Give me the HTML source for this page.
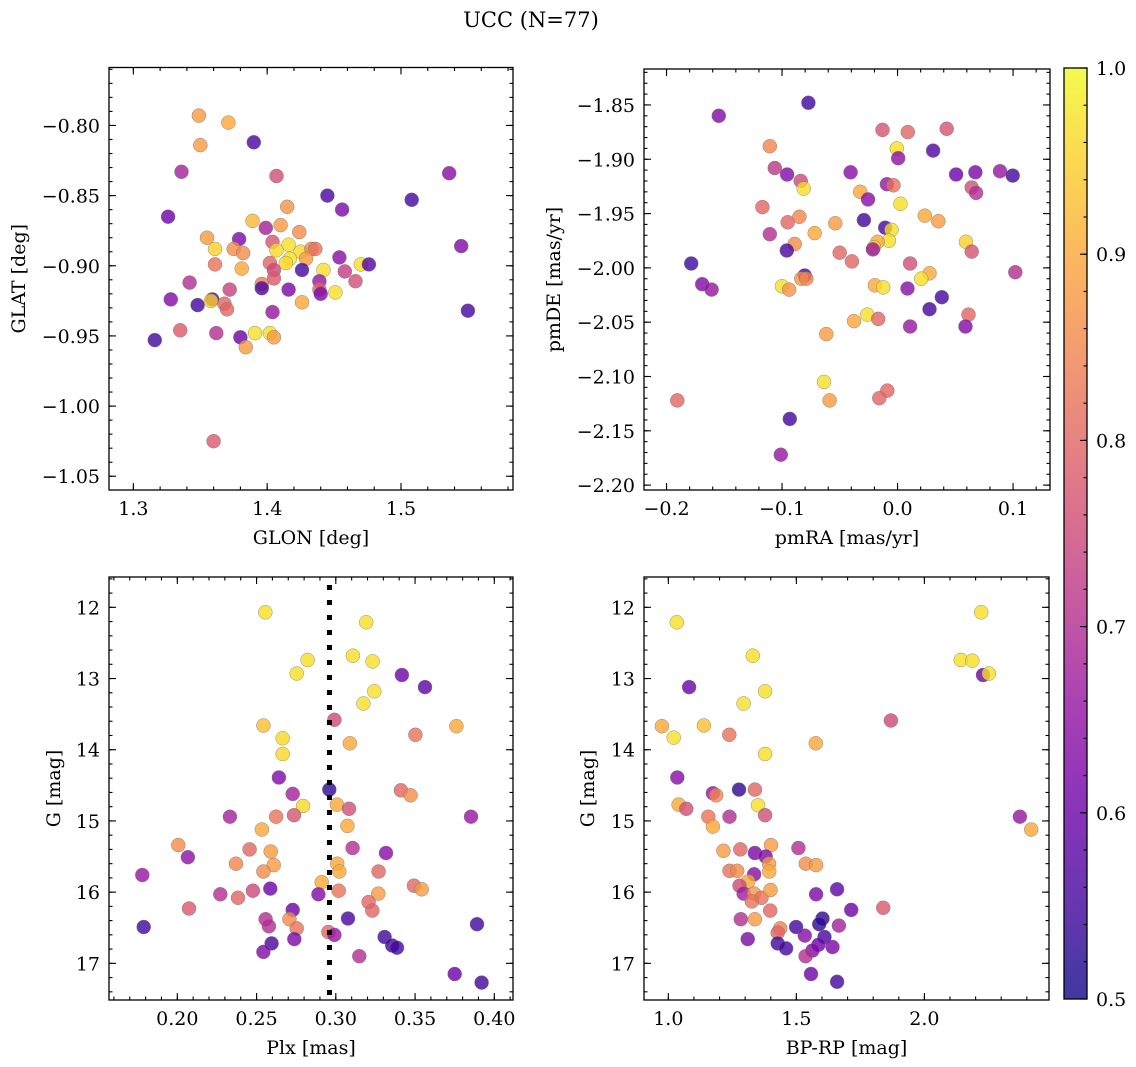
<!DOCTYPE html>
<html><head><meta charset="utf-8">
<style>
html,body{margin:0;padding:0;background:#fff;}
svg{display:block;font-family:"DejaVu Serif","Liberation Serif",serif;}
</style></head>
<body>
<svg id="chart" width="1136" height="1067" xmlns="http://www.w3.org/2000/svg">
<defs>
<linearGradient id="cbgrad" x1="0" y1="1" x2="0" y2="0">
<stop offset="0" stop-color="#0d0887"/><stop offset="0.1" stop-color="#41049d"/><stop offset="0.2" stop-color="#6a00a8"/>
<stop offset="0.3" stop-color="#8f0da4"/><stop offset="0.4" stop-color="#b12a90"/><stop offset="0.5" stop-color="#cc4778"/>
<stop offset="0.6" stop-color="#e16462"/><stop offset="0.7" stop-color="#f2844b"/><stop offset="0.8" stop-color="#fca636"/>
<stop offset="0.9" stop-color="#fcce25"/><stop offset="1" stop-color="#f0f921"/>
</linearGradient>
</defs>
<text x="531" y="27" font-size="21" text-anchor="middle">UCC (N=77)</text>
</svg>
<script>
// Panel 1: GLON vs GLAT
const p1Glon=[1.349,1.371,1.350,1.390,1.336,1.407,1.536,1.445,1.508,1.456,1.415,1.326,1.389,1.399,1.410,1.424,1.355,1.379,1.404,1.416,1.361,1.375,1.382,1.407,1.425,1.433,1.436,1.545,1.417,1.414,1.429,1.402,1.405,1.426,1.454,1.470,1.476,1.361,1.381,1.442,1.458,1.405,1.466,1.342,1.396,1.396,1.439,1.439,1.440,1.416,1.451,1.372,1.328,1.348,1.359,1.358,1.368,1.370,1.426,1.404,1.335,1.362,1.316,1.380,1.384,1.391,1.402,1.405,1.360,1.550];
const p1Glat=[-0.793,-0.798,-0.814,-0.812,-0.833,-0.836,-0.834,-0.850,-0.853,-0.860,-0.858,-0.865,-0.868,-0.873,-0.871,-0.876,-0.880,-0.881,-0.883,-0.885,-0.888,-0.888,-0.891,-0.889,-0.890,-0.888,-0.888,-0.886,-0.895,-0.898,-0.895,-0.898,-0.903,-0.903,-0.894,-0.899,-0.899,-0.899,-0.902,-0.903,-0.904,-0.909,-0.911,-0.912,-0.913,-0.916,-0.911,-0.917,-0.920,-0.917,-0.919,-0.917,-0.924,-0.928,-0.924,-0.925,-0.927,-0.931,-0.926,-0.933,-0.946,-0.948,-0.953,-0.951,-0.958,-0.948,-0.948,-0.951,-1.025,-0.932];
const p1Prob=[0.88,0.9,0.88,0.56,0.68,0.76,0.64,0.56,0.55,0.62,0.87,0.6,0.92,0.68,0.88,0.86,0.88,0.62,0.77,0.97,0.95,0.86,0.86,0.96,0.96,0.85,0.82,0.63,0.97,0.96,0.88,0.8,0.75,0.55,0.64,0.97,0.57,0.82,0.9,0.97,0.73,0.78,0.76,0.7,0.84,0.56,0.66,0.8,0.62,0.62,0.97,0.74,0.63,0.55,0.55,0.95,0.8,0.8,0.9,0.66,0.78,0.7,0.55,0.6,0.88,0.97,0.97,0.88,0.78,0.55];
const p1XTicks=[1.3,1.4,1.5];
const p1XLabels=["1.3","1.4","1.5"];
const p1YTicks=[-0.80,-0.85,-0.90,-0.95,-1.00,-1.05];
const p1YLabels=["−0.80","−0.85","−0.90","−0.95","−1.00","−1.05"];

// Panel 2: pmRA vs pmDE
const p2PmRA=[-0.1547,-0.0772,-0.1106,-0.0130,0.0089,0.0426,-0.0006,0.0006,0.0308,-0.1063,-0.0956,-0.0838,-0.0812,-0.0406,-0.0092,-0.0035,0.0507,0.0674,0.0887,0.0997,0.0642,0.068,-0.0323,-0.0256,0.0026,-0.117,-0.0951,-0.085,-0.0539,-0.0291,0.0236,0.0354,-0.1106,-0.0717,-0.0107,-0.0052,-0.0075,-0.0173,-0.0205,-0.0213,-0.089,-0.0959,0.0593,0.0642,-0.0501,-0.0395,-0.1786,0.0109,0.102,-0.1691,-0.161,-0.0804,-0.0833,-0.079,-0.100,-0.0939,0.0277,0.0205,-0.0196,-0.0124,0.0086,0.0383,0.0277,0.0614,0.0588,0.0109,-0.0262,-0.0167,-0.0377,-0.0617,-0.0637,-0.0588,-0.0089,-0.0158,-0.1907,-0.0933,-0.1011];
const p2PmDE=[-1.860,-1.848,-1.888,-1.873,-1.875,-1.872,-1.890,-1.899,-1.892,-1.908,-1.914,-1.920,-1.927,-1.912,-1.923,-1.924,-1.914,-1.912,-1.911,-1.915,-1.926,-1.931,-1.930,-1.937,-1.941,-1.944,-1.958,-1.953,-1.959,-1.956,-1.952,-1.957,-1.969,-1.968,-1.963,-1.965,-1.975,-1.976,-1.981,-1.983,-1.978,-1.984,-1.976,-1.985,-1.986,-1.994,-1.996,-1.996,-2.004,-2.015,-2.020,-2.007,-2.010,-2.010,-2.017,-2.020,-2.005,-2.010,-2.016,-2.018,-2.019,-2.027,-2.038,-2.043,-2.054,-2.054,-2.043,-2.047,-2.049,-2.061,-2.105,-2.122,-2.113,-2.120,-2.122,-2.139,-2.172];
const p2Prob=[0.63,0.55,0.85,0.77,0.8,0.77,0.97,0.65,0.57,0.72,0.63,0.75,0.97,0.64,0.66,0.82,0.6,0.62,0.66,0.55,0.76,0.7,0.9,0.64,0.97,0.8,0.8,0.85,0.88,0.55,0.9,0.88,0.7,0.9,0.56,0.97,0.97,0.9,0.95,0.66,0.86,0.56,0.95,0.77,0.8,0.8,0.55,0.76,0.7,0.63,0.66,0.55,0.87,0.85,0.97,0.87,0.9,0.97,0.9,0.97,0.64,0.55,0.55,0.8,0.63,0.66,0.97,0.8,0.9,0.88,0.97,0.88,0.8,0.8,0.8,0.55,0.66];
const p2XTicks=[-0.2,-0.1,0.0,0.1];
const p2XLabels=["−0.2","−0.1","0.0","0.1"];
const p2YTicks=[-1.85,-1.90,-1.95,-2.00,-2.05,-2.10,-2.15,-2.20];
const p2YLabels=["−1.85","−1.90","−1.95","−2.00","−2.05","−2.10","−2.15","−2.20"];

// Panel 3: Plx vs G
const p3Plx=[0.2555,0.3192,0.2822,0.2753,0.3108,0.3232,0.3417,0.3563,0.3243,0.3174,0.2991,0.2543,0.3761,0.3502,0.2665,0.3089,0.2665,0.2641,0.2959,0.2728,0.3411,0.3472,0.2793,0.3007,0.3083,0.2332,0.2623,0.2736,0.3853,0.2534,0.3073,0.2006,0.2067,0.2456,0.2589,0.3106,0.3317,0.2370,0.2608,0.2543,0.3009,0.3022,0.3270,0.1779,0.2911,0.3493,0.3542,0.2271,0.2383,0.2477,0.2587,0.2890,0.3018,0.3268,0.2074,0.3207,0.3230,0.2728,0.3077,0.1788,0.3891,0.2557,0.2578,0.2707,0.2753,0.2953,0.2991,0.3308,0.3356,0.3386,0.2595,0.2738,0.2543,0.3148,0.3750,0.3920];
const p3G=[12.07,12.21,12.74,12.93,12.68,12.76,12.95,13.12,13.18,13.35,13.58,13.66,13.67,13.79,13.84,13.91,14.06,14.39,14.56,14.62,14.57,14.64,14.79,14.77,14.83,14.94,14.94,14.92,14.94,15.12,15.07,15.34,15.51,15.40,15.43,15.38,15.45,15.60,15.62,15.71,15.60,15.71,15.71,15.76,15.86,15.91,15.96,16.03,16.08,15.98,15.95,16.03,15.98,16.02,16.23,16.14,16.26,16.25,16.37,16.49,16.45,16.38,16.48,16.38,16.51,16.56,16.60,16.63,16.75,16.78,16.72,16.66,16.84,16.90,17.15,17.27];
const p3Prob=[0.97,0.97,0.97,0.97,0.97,0.97,0.6,0.58,0.97,0.97,0.75,0.93,0.9,0.82,0.96,0.9,0.96,0.63,0.53,0.68,0.8,0.86,0.96,0.9,0.76,0.68,0.82,0.77,0.66,0.9,0.9,0.86,0.65,0.8,0.88,0.7,0.64,0.85,0.88,0.86,0.9,0.9,0.8,0.66,0.9,0.8,0.88,0.7,0.8,0.75,0.6,0.63,0.82,0.88,0.78,0.8,0.8,0.6,0.56,0.55,0.55,0.7,0.7,0.86,0.82,0.8,0.66,0.55,0.55,0.55,0.56,0.62,0.63,0.7,0.6,0.55];
const plxCut=[0.296];
const p3XTicks=[0.20,0.25,0.30,0.35,0.40];
const p3XLabels=["0.20","0.25","0.30","0.35","0.40"];
const gTicks=[12,13,14,15,16,17];
const gLabels=["12","13","14","15","16","17"];

// Panel 4: BP-RP vs G
const p4Col=[1.033,2.222,1.330,2.142,2.187,2.229,2.252,1.081,1.378,1.294,1.869,0.975,1.139,1.021,1.238,1.576,1.378,1.035,1.276,1.338,1.174,1.187,1.040,1.070,1.350,1.378,1.156,1.239,1.174,2.373,2.417,1.215,1.281,1.401,1.338,1.380,1.508,1.393,1.394,1.537,1.577,1.239,1.269,1.335,1.312,1.278,1.294,1.335,1.364,1.326,1.399,1.577,1.659,1.398,1.714,1.839,1.283,1.338,1.437,1.427,1.499,1.602,1.589,1.666,1.310,1.533,1.610,1.427,1.460,1.586,1.641,1.563,1.536,1.557,1.659];
const p4G=[12.21,12.07,12.68,12.74,12.75,12.95,12.93,13.12,13.18,13.35,13.59,13.67,13.66,13.83,13.79,13.91,14.06,14.39,14.56,14.56,14.61,14.64,14.77,14.83,14.78,14.92,14.94,14.94,15.08,14.94,15.12,15.42,15.40,15.34,15.45,15.50,15.38,15.60,15.71,15.60,15.62,15.70,15.70,15.75,15.85,15.91,16.02,16.02,16.08,16.13,15.97,16.03,15.96,16.26,16.25,16.22,16.38,16.38,16.51,16.57,16.49,16.37,16.45,16.47,16.66,16.61,16.63,16.72,16.79,16.74,16.77,16.82,16.90,17.15,17.26];
const p4Prob=[0.97,0.97,0.97,0.97,0.97,0.6,0.97,0.6,0.97,0.97,0.75,0.9,0.93,0.97,0.82,0.9,0.97,0.64,0.53,0.8,0.66,0.85,0.9,0.76,0.97,0.76,0.82,0.7,0.9,0.66,0.9,0.88,0.8,0.88,0.62,0.62,0.7,0.88,0.9,0.86,0.88,0.82,0.86,0.64,0.9,0.75,0.67,0.87,0.82,0.82,0.88,0.62,0.58,0.8,0.6,0.78,0.7,0.88,0.84,0.8,0.55,0.53,0.53,0.68,0.62,0.64,0.56,0.55,0.55,0.6,0.62,0.63,0.7,0.6,0.55];
const p4XTicks=[1.0,1.5,2.0];
const p4XLabels=["1.0","1.5","2.0"];

const cbTicks=[0.5,0.6,0.7,0.8,0.9,1.0];
const cbLabels=["0.5","0.6","0.7","0.8","0.9","1.0"];

const NS="http://www.w3.org/2000/svg";
const svg=document.getElementById('chart');
const FS=19;
const stops=[[13,8,135],[65,4,157],[106,0,168],[143,13,164],[177,42,144],[204,71,120],[225,100,98],[242,132,75],[252,166,54],[252,206,37],[240,249,33]];
function plasma(t){t=Math.max(0,Math.min(1,t));const f=t*10;const i=Math.min(9,Math.floor(f));const r=f-i;const a=stops[i],b=stops[i+1];
return 'rgb('+[0,1,2].map(k=>Math.round(a[k]+(b[k]-a[k])*r)).join(',')+')';}
function mk(tag,attrs,parent){const e=document.createElementNS(NS,tag);for(const k in attrs)e.setAttribute(k,attrs[k]);(parent||svg).appendChild(e);return e;}
function rng(a,b,s){const o=[];for(let v=a;v<=b+1e-9;v+=s)o.push(+v.toFixed(6));return o;}

function panel(cfg){
  const g=mk('g',{});
  
  
  const {L,R,T,B,x0,x1,y0,y1}=cfg;
  const sx=v=>L+(v-x0)/(x1-x0)*(R-L);
  const sy=v=>cfg.invert? T+(v-y0)/(y1-y0)*(B-T) : B-(v-y0)/(y1-y0)*(B-T);
  const pg=mk('g',{},g);
  
  
  for(let i=0;i<cfg.xs.length;i++){
    const c=mk('circle',{cx:sx(cfg.xs[i]).toFixed(1),cy:sy(cfg.ys[i]).toFixed(1),r:7,fill:plasma((cfg.ps[i]-0.5)/0.5),'fill-opacity':0.8,stroke:'#777','stroke-width':0.5,'stroke-opacity':0.8},pg);
    
    
  }
  if(cfg.vline){
    const xv=sx(cfg.vline[0]);
    const ln=mk('line',{x1:xv,x2:xv,y1:T,y2:B,stroke:'#000','stroke-width':5,'stroke-dasharray':'5,10','stroke-dashoffset':'-8'},g);
    
    
  }
  const fr=mk('rect',{x:L,y:T,width:R-L,height:B-T,fill:'none',stroke:'#000','stroke-width':1.3},g);
  
  
  const tg=mk('g',{stroke:'#000','stroke-width':1.1},g);
  
  
  for(const v of rng(cfg.xmin0,x1,cfg.xminor)){ if(v<x0)continue; const x=sx(v); mk('line',{x1:x,x2:x,y1:B,y2:B-3.5},tg); mk('line',{x1:x,x2:x,y1:T,y2:T+3.5},tg);}
  for(const v of rng(cfg.ymin0,y1,cfg.yminor)){ if(v<y0)continue; const y=sy(v); mk('line',{x1:L,x2:L+3.5,y1:y,y2:y},tg); mk('line',{x1:R,x2:R-3.5,y1:y,y2:y},tg);}
  cfg.xt.forEach((v,i)=>{const x=sx(v);mk('line',{x1:x,x2:x,y1:B,y2:B-7},tg);mk('line',{x1:x,x2:x,y1:T,y2:T+7},tg);
    const t=mk('text',{x:x,y:B+25,'font-size':FS,'text-anchor':'middle'},g);t.textContent=cfg.xl[i];
    
    });
  cfg.yt.forEach((v,i)=>{const y=sy(v);mk('line',{x1:L,x2:L+7,y1:y,y2:y},tg);mk('line',{x1:R,x2:R-7,y1:y,y2:y},tg);
    const t=mk('text',{x:L-9,y:y+7,'font-size':FS,'text-anchor':'end'},g);t.textContent=cfg.yl[i];
    
    });
  const xt=mk('text',{x:(L+R)/2,y:B+54,'font-size':FS,'text-anchor':'middle'},g);xt.textContent=cfg.xtitle;
  
  
  const yx=cfg.ytx, yc=(T+B)/2;
  const yt=mk('text',{x:yx,y:yc,'font-size':FS,'text-anchor':'middle',transform:'rotate(-90 '+yx+' '+yc+')'},g);yt.textContent=cfg.ytitle;
  
  
}

panel({name:'glon-glat-panel',L:109,R:513,T:67.5,B:490,x0:1.2818,x1:1.5837,y0:-1.0598,y1:-0.7587,xs:p1Glon,ys:p1Glat,ps:p1Prob,
  xt:p1XTicks,xl:p1XLabels,yt:p1YTicks,yl:p1YLabels,xminor:0.02,xmin0:1.28,yminor:0.01,ymin0:-1.06,xtitle:'GLON [deg]',ytitle:'GLAT [deg]',ytx:25});
panel({name:'pm-panel',L:644,R:1050,T:69,B:490,x0:-0.2195,x1:0.132,y0:-2.2045,y1:-1.8169,xs:p2PmRA,ys:p2PmDE,ps:p2Prob,
  xt:p2XTicks,xl:p2XLabels,yt:p2YTicks,yl:p2YLabels,xminor:0.02,xmin0:-0.22,yminor:0.01,ymin0:-2.20,xtitle:'pmRA [mas/yr]',ytitle:'pmDE [mas/yr]',ytx:560});
panel({name:'plx-g-panel',L:109,R:513,T:577,B:1000,x0:0.1569,x1:0.4118,y0:11.574,y1:17.515,invert:true,xs:p3Plx,ys:p3G,ps:p3Prob,vline:plxCut,
  xt:p3XTicks,xl:p3XLabels,yt:gTicks,yl:gLabels,xminor:0.01,xmin0:0.16,yminor:0.2,ymin0:11.6,xtitle:'Plx [mas]',ytitle:'G [mag]',ytx:60});
panel({name:'cmd-panel',L:644,R:1049,T:577,B:1000,x0:0.905,x1:2.4866,y0:11.574,y1:17.515,invert:true,xs:p4Col,ys:p4G,ps:p4Prob,
  xt:p4XTicks,xl:p4XLabels,yt:gTicks,yl:gLabels,xminor:0.1,xmin0:0.9,yminor:0.2,ymin0:11.6,xtitle:'BP-RP [mag]',ytitle:'G [mag]',ytx:594});

const cb=mk('g',{});


const cT=68,cB=999,cL=1064,cR=1087;
mk('rect',{x:cL,y:cT,width:cR-cL,height:cB-cT,fill:'url(#cbgrad)','fill-opacity':0.8},cb);
mk('rect',{x:cL,y:cT,width:cR-cL,height:cB-cT,fill:'none',stroke:'#000','stroke-width':1.3},cb);
const cy=v=>cB-(v-0.5)/0.5*(cB-cT);
for(const v of rng(0.5,1.0,0.02)){mk('line',{x1:cR,x2:cR-3.5,y1:cy(v),y2:cy(v),stroke:'#000','stroke-width':1.1},cb);}
cbTicks.forEach((v,i)=>{const y=cy(v);mk('line',{x1:cR,x2:cR-7,y1:y,y2:y,stroke:'#000','stroke-width':1.1},cb);
  const t=mk('text',{x:cR+9,y:y+7,'font-size':FS},cb);t.textContent=cbLabels[i];
  
  });
</script>
</body></html>
